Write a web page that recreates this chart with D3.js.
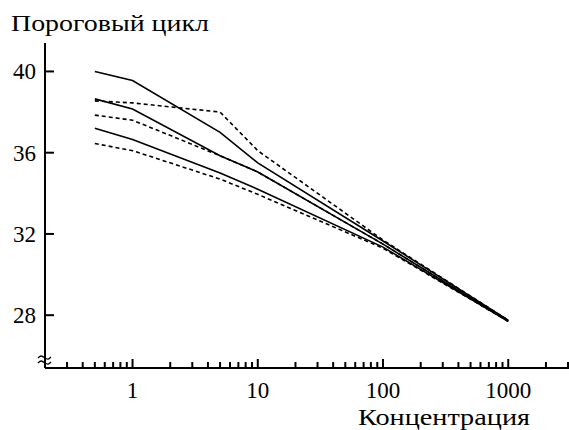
<!DOCTYPE html>
<html lang="ru">
<head>
  <meta charset="UTF-8">
  <title>Пороговый цикл</title>
  <script src="https://d3js.org/d3.v7.min.js"></script>
  <style>
    body { margin: 0; background: #fff; }
    svg { display: block; }
    .series { fill: none; stroke: #000; stroke-width: 1.6px; }
    .dashed { stroke-dasharray: 4,3; }
    .axis line { stroke: #000; stroke-width: 2px; fill: none; }
  </style>
</head>
<body>
<svg></svg>
<script>
  // концентрации
  const conc = [0.5, 1, 5, 10, 100, 1000];

  // сплошные линии
  const solid1 = [40.0, 39.55, 37.0, 35.5, 31.65, 27.75];
  const solid2 = [38.65, 38.15, 35.85, 35.05, 31.5, 27.7];
  const solid3 = [37.2, 36.65, 35.0, 34.2, 31.35, 27.7];

  // пунктирные линии
  const dashed1 = [38.55, 38.45, 38.0, 36.1, 31.7, 27.75];
  const dashed2 = [37.85, 37.6, 35.85, 35.05, 31.5, 27.7];
  const dashed3 = [36.45, 36.1, 34.7, 33.95, 31.3, 27.7];

  const yTicks = [28, 32, 36, 40];
  const xMajor = [1, 10, 100, 1000];

  const FONT = '"Liberation Serif", "Times New Roman", Tinos, "DejaVu Serif", serif';

  const width = 569, height = 430;
  const svg = d3.select('svg').attr('width', width).attr('height', height);

  const x = d3.scaleLog().domain([0.2, 3000]).range([45, 568]);
  const y = d3.scaleLinear().domain([25.4, 41.4]).range([368, 43]);

  // минорные деления: 0.3..0.9, 2..9 и т.д.
  const xMinor = [];
  [0.1, 1, 10, 100, 1000].forEach(d => {
    for (let k = 2; k <= 9; k++) {
      const v = d * k;
      if (v > 0.25 && v <= 3000) xMinor.push(v);
    }
  });

  // ось X
  const gx = svg.append('g').attr('class', 'axis');
  gx.append('line')
    .attr('x1', x.range()[0]).attr('x2', x.range()[1] + 1)
    .attr('y1', y(25.4)).attr('y2', y(25.4));
  gx.selectAll('.minor').data(xMinor).join('line')
    .attr('x1', d => x(d)).attr('x2', d => x(d))
    .attr('y1', y(25.4)).attr('y2', y(25.4) - 6);
  gx.selectAll('.major').data(xMajor).join('line')
    .attr('x1', d => x(d)).attr('x2', d => x(d))
    .attr('y1', y(25.4)).attr('y2', y(25.4) - 9);
  svg.selectAll('.xlab').data(xMajor).join('text')
    .attr('x', d => x(d)).attr('y', 398)
    .attr('text-anchor', 'middle')
    .attr('font-family', FONT)
    .attr('font-size', 23)
    .text(d => d);

  // ось Y
  const gy = svg.append('g').attr('class', 'axis');
  gy.append('line')
    .attr('x1', x.range()[0]).attr('x2', x.range()[0])
    .attr('y1', y(41.4)).attr('y2', y(25.4));
  gy.selectAll('.yt').data(yTicks).join('line')
    .attr('x1', x.range()[0]).attr('x2', x.range()[0] + 9)
    .attr('y1', d => y(d)).attr('y2', d => y(d));
  svg.selectAll('.ylab').data(yTicks).join('text')
    .attr('x', 36).attr('y', d => y(d))
    .attr('dy', '0.35em')
    .attr('text-anchor', 'end')
    .attr('font-family', FONT)
    .attr('font-size', 23)
    .text(d => d);

  // знак разрыва оси
  const bx = x.range()[0], by = y(25.4) - 11;
  const wave = d3.line().curve(d3.curveBasis);
  [0, 5].forEach(off => {
    svg.append('path')
      .attr('d', wave([[bx - 7, by + off + 1], [bx - 4, by + off - 2], [bx, by + off + 1], [bx + 3, by + off + 3], [bx + 6, by + off]]))
      .attr('fill', 'none').attr('stroke', '#000').attr('stroke-width', 1.3);
  });

  // линии
  const line = d3.line()
    .x(d => x(d[0]))
    .y(d => y(d[1]));

  const series = [
    { v: solid1, dash: false },
    { v: solid2, dash: false },
    { v: solid3, dash: false },
    { v: dashed1, dash: true },
    { v: dashed2, dash: true },
    { v: dashed3, dash: true }
  ];
  series.forEach(s => {
    svg.append('path')
      .datum(conc.map((c, i) => [c, s.v[i]]))
      .attr('class', 'series' + (s.dash ? ' dashed' : ''))
      .attr('d', line);
  });

  // подписи (шрифт оригинала шире, растягиваем)
  svg.append('text')
    .attr('x', 11).attr('y', 31)
    .attr('font-family', FONT)
    .attr('font-size', 24)
    .attr('textLength', 198)
    .attr('lengthAdjust', 'spacingAndGlyphs')
    .text('Пороговый цикл');
  svg.append('text')
    .attr('x', 358).attr('y', 425)
    .attr('font-family', FONT)
    .attr('font-size', 24)
    .attr('textLength', 172)
    .attr('lengthAdjust', 'spacingAndGlyphs')
    .text('Концентрация');
</script>
</body>
</html>
